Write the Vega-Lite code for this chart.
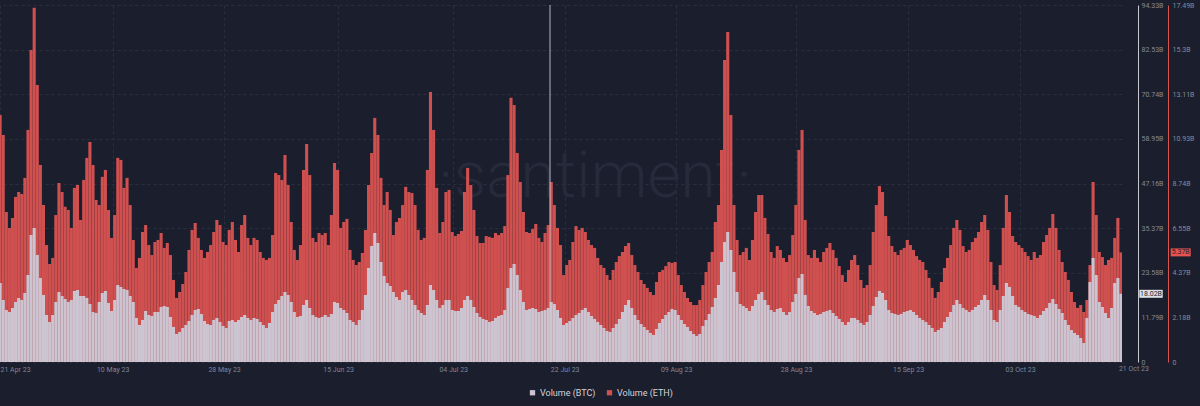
{
"$schema": "https://vega.github.io/schema/vega-lite/v6.json",
"width": 1122, "height": 357,
"autosize": "none",
"padding": {"left": 0, "top": 5, "right": 78, "bottom": 44},
"background": "#1b1e2d",
"config": {"view": {"stroke": null}, "font": "Roboto", "axis": {"labelFont": "Roboto"}, "legend": {"labelFont": "Roboto"}},
"data": {"format": {"parse": {"t": "utc:'%Y-%m-%d %H'"}}, "values": [
{"t":"2023-04-21 12","e":12.10,"b":20.87},{"t":"2023-04-22 00","e":11.12,"b":16.38},{"t":"2023-04-22 12","e":7.35,"b":13.74},{"t":"2023-04-23 00","e":6.57,"b":13.21},{"t":"2023-04-23 12","e":7.06,"b":14.27},{"t":"2023-04-24 00","e":8.09,"b":15.85},{"t":"2023-04-24 12","e":8.33,"b":16.91},{"t":"2023-04-25 00","e":8.23,"b":16.38},{"t":"2023-04-25 12","e":9.02,"b":18.23},{"t":"2023-04-26 00","e":11.37,"b":22.99},{"t":"2023-04-26 12","e":15.29,"b":33.55},{"t":"2023-04-27 00","e":17.35,"b":35.40},{"t":"2023-04-27 12","e":13.57,"b":28.27},{"t":"2023-04-28 00","e":9.65,"b":22.19},{"t":"2023-04-28 12","e":7.69,"b":17.70},{"t":"2023-04-29 00","e":5.73,"b":12.42},{"t":"2023-04-29 12","e":4.80,"b":10.57},{"t":"2023-04-30 00","e":5.10,"b":12.42},{"t":"2023-04-30 12","e":7.20,"b":15.85},
{"t":"2023-05-01 00","e":8.77,"b":18.49},{"t":"2023-05-01 12","e":8.33,"b":17.44},{"t":"2023-05-02 00","e":7.60,"b":16.64},{"t":"2023-05-02 12","e":7.45,"b":15.85},{"t":"2023-05-03 00","e":6.57,"b":16.38},{"t":"2023-05-03 12","e":8.53,"b":18.76},{"t":"2023-05-04 00","e":8.67,"b":19.02},{"t":"2023-05-04 12","e":6.96,"b":17.44},{"t":"2023-05-05 00","e":8.92,"b":17.44},{"t":"2023-05-05 12","e":10.00,"b":16.91},{"t":"2023-05-06 00","e":10.78,"b":15.32},{"t":"2023-05-06 12","e":9.65,"b":13.21},{"t":"2023-05-07 00","e":7.94,"b":12.95},{"t":"2023-05-07 12","e":7.69,"b":15.85},{"t":"2023-05-08 00","e":9.07,"b":18.23},{"t":"2023-05-08 12","e":9.41,"b":18.76},{"t":"2023-05-09 00","e":7.45,"b":15.59},{"t":"2023-05-09 12","e":6.08,"b":13.47},{"t":"2023-05-10 00","e":7.20,"b":16.38},{"t":"2023-05-10 12","e":10.00,"b":20.34},{"t":"2023-05-11 00","e":9.90,"b":19.82},{"t":"2023-05-11 12","e":8.53,"b":19.29},{"t":"2023-05-12 00","e":9.02,"b":19.02},{"t":"2023-05-12 12","e":7.69,"b":17.44},{"t":"2023-05-13 00","e":5.98,"b":15.85},{"t":"2023-05-13 12","e":4.61,"b":11.62},{"t":"2023-05-14 00","e":5.10,"b":9.78},{"t":"2023-05-14 12","e":6.37,"b":11.10},{"t":"2023-05-15 00","e":6.71,"b":13.47},{"t":"2023-05-15 12","e":5.73,"b":12.42},{"t":"2023-05-16 00","e":5.24,"b":12.15},{"t":"2023-05-16 12","e":5.88,"b":13.21},{"t":"2023-05-17 00","e":5.98,"b":13.21},{"t":"2023-05-17 12","e":6.32,"b":14.53},{"t":"2023-05-18 00","e":5.59,"b":14.80},{"t":"2023-05-18 12","e":5.83,"b":14.53},{"t":"2023-05-19 00","e":5.24,"b":11.89},{"t":"2023-05-19 12","e":4.02,"b":9.25},{"t":"2023-05-20 00","e":3.14,"b":7.40},{"t":"2023-05-20 12","e":3.43,"b":7.93},{"t":"2023-05-21 00","e":3.82,"b":8.98},{"t":"2023-05-21 12","e":4.41,"b":9.78},{"t":"2023-05-22 00","e":5.49,"b":10.83},{"t":"2023-05-22 12","e":6.47,"b":12.42},{"t":"2023-05-23 00","e":6.81,"b":13.74},{"t":"2023-05-23 12","e":6.08,"b":14.00},{"t":"2023-05-24 00","e":5.49,"b":12.68},{"t":"2023-05-24 12","e":5.10,"b":10.83},{"t":"2023-05-25 00","e":5.39,"b":10.04},{"t":"2023-05-25 12","e":5.73,"b":9.78},{"t":"2023-05-26 00","e":6.37,"b":11.10},{"t":"2023-05-26 12","e":6.96,"b":11.62},{"t":"2023-05-27 00","e":6.71,"b":10.57},{"t":"2023-05-27 12","e":5.88,"b":9.51},{"t":"2023-05-28 00","e":5.73,"b":8.98},{"t":"2023-05-28 12","e":6.47,"b":10.83},{"t":"2023-05-29 00","e":6.86,"b":11.10},{"t":"2023-05-29 12","e":5.98,"b":10.57},{"t":"2023-05-30 00","e":5.39,"b":11.10},{"t":"2023-05-30 12","e":6.71,"b":11.89},{"t":"2023-05-31 00","e":7.20,"b":12.42},{"t":"2023-05-31 12","e":6.08,"b":11.62},
{"t":"2023-06-01 00","e":5.73,"b":11.10},{"t":"2023-06-01 12","e":6.08,"b":11.62},{"t":"2023-06-02 00","e":5.98,"b":11.36},{"t":"2023-06-02 12","e":5.39,"b":10.57},{"t":"2023-06-03 00","e":5.10,"b":9.78},{"t":"2023-06-03 12","e":5.00,"b":8.98},{"t":"2023-06-04 00","e":5.10,"b":10.30},{"t":"2023-06-04 12","e":6.22,"b":13.21},{"t":"2023-06-05 00","e":9.26,"b":15.32},{"t":"2023-06-05 12","e":9.16,"b":16.38},{"t":"2023-06-06 00","e":8.92,"b":17.44},{"t":"2023-06-06 12","e":10.14,"b":18.49},{"t":"2023-06-07 00","e":8.67,"b":17.70},{"t":"2023-06-07 12","e":6.86,"b":15.85},{"t":"2023-06-08 00","e":5.49,"b":13.21},{"t":"2023-06-08 12","e":5.00,"b":11.89},{"t":"2023-06-09 00","e":5.73,"b":12.15},{"t":"2023-06-09 12","e":9.41,"b":15.06},{"t":"2023-06-10 00","e":10.68,"b":16.38},{"t":"2023-06-10 12","e":9.16,"b":14.27},{"t":"2023-06-11 00","e":6.08,"b":12.42},{"t":"2023-06-11 12","e":5.88,"b":11.89},{"t":"2023-06-12 00","e":6.32,"b":11.62},{"t":"2023-06-12 12","e":6.22,"b":11.89},{"t":"2023-06-13 00","e":6.32,"b":12.42},{"t":"2023-06-13 12","e":5.73,"b":11.89},{"t":"2023-06-14 00","e":7.20,"b":12.68},{"t":"2023-06-14 12","e":9.75,"b":15.85},{"t":"2023-06-15 00","e":9.41,"b":15.59},{"t":"2023-06-15 12","e":6.57,"b":14.27},{"t":"2023-06-16 00","e":6.86,"b":13.74},{"t":"2023-06-16 12","e":7.01,"b":12.95},{"t":"2023-06-17 00","e":5.49,"b":11.10},{"t":"2023-06-17 12","e":5.00,"b":10.57},{"t":"2023-06-18 00","e":4.75,"b":9.78},{"t":"2023-06-18 12","e":4.90,"b":11.10},{"t":"2023-06-19 00","e":5.34,"b":13.74},{"t":"2023-06-19 12","e":6.47,"b":17.70},{"t":"2023-06-20 00","e":8.67,"b":24.83},{"t":"2023-06-20 12","e":10.24,"b":30.65},{"t":"2023-06-21 00","e":11.96,"b":34.08},{"t":"2023-06-21 12","e":11.12,"b":31.44},{"t":"2023-06-22 00","e":9.02,"b":26.42},{"t":"2023-06-22 12","e":7.69,"b":22.72},{"t":"2023-06-23 00","e":8.33,"b":20.87},{"t":"2023-06-23 12","e":7.45,"b":20.08},{"t":"2023-06-24 00","e":6.22,"b":18.49},{"t":"2023-06-24 12","e":6.86,"b":17.17},{"t":"2023-06-25 00","e":7.06,"b":16.38},{"t":"2023-06-25 12","e":7.69,"b":18.49},{"t":"2023-06-26 00","e":8.58,"b":19.02},{"t":"2023-06-26 12","e":8.33,"b":17.70},{"t":"2023-06-27 00","e":8.28,"b":16.38},{"t":"2023-06-27 12","e":7.69,"b":15.06},{"t":"2023-06-28 00","e":6.47,"b":13.74},{"t":"2023-06-28 12","e":5.98,"b":12.95},{"t":"2023-06-29 00","e":6.08,"b":12.42},{"t":"2023-06-29 12","e":9.41,"b":15.06},{"t":"2023-06-30 00","e":13.23,"b":20.34},{"t":"2023-06-30 12","e":11.37,"b":19.02},
{"t":"2023-07-01 00","e":8.53,"b":16.38},{"t":"2023-07-01 12","e":6.32,"b":14.27},{"t":"2023-07-02 00","e":6.86,"b":15.06},{"t":"2023-07-02 12","e":8.33,"b":16.38},{"t":"2023-07-03 00","e":8.43,"b":16.38},{"t":"2023-07-03 12","e":6.37,"b":13.74},{"t":"2023-07-04 00","e":6.17,"b":13.47},{"t":"2023-07-04 12","e":6.27,"b":13.47},{"t":"2023-07-05 00","e":6.42,"b":14.27},{"t":"2023-07-05 12","e":8.33,"b":16.38},{"t":"2023-07-06 00","e":9.51,"b":17.44},{"t":"2023-07-06 12","e":8.67,"b":16.38},{"t":"2023-07-07 00","e":7.45,"b":14.53},{"t":"2023-07-07 12","e":6.17,"b":12.95},{"t":"2023-07-08 00","e":5.83,"b":11.89},{"t":"2023-07-08 12","e":5.83,"b":11.36},{"t":"2023-07-09 00","e":6.17,"b":11.10},{"t":"2023-07-09 12","e":6.13,"b":10.57},{"t":"2023-07-10 00","e":6.08,"b":10.83},{"t":"2023-07-10 12","e":6.32,"b":11.62},{"t":"2023-07-11 00","e":6.22,"b":12.15},{"t":"2023-07-11 12","e":6.32,"b":12.42},{"t":"2023-07-12 00","e":6.66,"b":13.74},{"t":"2023-07-12 12","e":9.16,"b":19.55},{"t":"2023-07-13 00","e":12.94,"b":24.83},{"t":"2023-07-13 12","e":12.59,"b":25.89},{"t":"2023-07-14 00","e":10.24,"b":22.99},{"t":"2023-07-14 12","e":8.82,"b":19.02},{"t":"2023-07-15 00","e":7.35,"b":15.85},{"t":"2023-07-15 12","e":6.37,"b":13.74},{"t":"2023-07-16 00","e":6.32,"b":14.00},{"t":"2023-07-16 12","e":6.52,"b":14.27},{"t":"2023-07-17 00","e":6.76,"b":14.00},{"t":"2023-07-17 12","e":6.08,"b":13.21},{"t":"2023-07-18 00","e":5.88,"b":13.47},{"t":"2023-07-18 12","e":6.32,"b":13.74},{"t":"2023-07-19 00","e":6.71,"b":14.27},{"t":"2023-07-19 12","e":8.82,"b":15.85},{"t":"2023-07-20 00","e":7.69,"b":15.32},{"t":"2023-07-20 12","e":6.57,"b":13.74},{"t":"2023-07-21 00","e":5.73,"b":11.62},{"t":"2023-07-21 12","e":4.26,"b":9.78},{"t":"2023-07-22 00","e":4.75,"b":10.30},{"t":"2023-07-22 12","e":5.00,"b":10.83},{"t":"2023-07-23 00","e":5.88,"b":11.62},{"t":"2023-07-23 12","e":6.66,"b":12.42},{"t":"2023-07-24 00","e":6.47,"b":12.95},{"t":"2023-07-24 12","e":6.57,"b":13.74},{"t":"2023-07-25 00","e":6.37,"b":14.27},{"t":"2023-07-25 12","e":5.98,"b":13.21},{"t":"2023-07-26 00","e":5.73,"b":12.15},{"t":"2023-07-26 12","e":5.59,"b":11.36},{"t":"2023-07-27 00","e":5.10,"b":10.57},{"t":"2023-07-27 12","e":4.75,"b":9.78},{"t":"2023-07-28 00","e":4.61,"b":8.98},{"t":"2023-07-28 12","e":4.26,"b":8.19},{"t":"2023-07-29 00","e":4.02,"b":7.93},{"t":"2023-07-29 12","e":4.51,"b":8.98},{"t":"2023-07-30 00","e":4.90,"b":10.04},{"t":"2023-07-30 12","e":5.19,"b":11.36},{"t":"2023-07-31 00","e":5.39,"b":13.21},{"t":"2023-07-31 12","e":5.68,"b":15.06},
{"t":"2023-08-01 00","e":5.83,"b":16.38},{"t":"2023-08-01 12","e":5.24,"b":14.27},{"t":"2023-08-02 00","e":4.75,"b":12.42},{"t":"2023-08-02 12","e":4.41,"b":11.10},{"t":"2023-08-03 00","e":4.02,"b":10.04},{"t":"2023-08-03 12","e":3.82,"b":9.25},{"t":"2023-08-04 00","e":3.63,"b":8.45},{"t":"2023-08-04 12","e":3.43,"b":7.66},{"t":"2023-08-05 00","e":3.28,"b":7.13},{"t":"2023-08-05 12","e":3.92,"b":8.72},{"t":"2023-08-06 00","e":4.41,"b":10.30},{"t":"2023-08-06 12","e":4.51,"b":11.36},{"t":"2023-08-07 00","e":4.70,"b":12.42},{"t":"2023-08-07 12","e":4.90,"b":13.21},{"t":"2023-08-08 00","e":4.85,"b":14.00},{"t":"2023-08-08 12","e":4.90,"b":13.74},{"t":"2023-08-09 00","e":4.26,"b":12.42},{"t":"2023-08-09 12","e":3.77,"b":11.10},{"t":"2023-08-10 00","e":3.43,"b":10.04},{"t":"2023-08-10 12","e":3.14,"b":9.25},{"t":"2023-08-11 00","e":2.94,"b":8.19},{"t":"2023-08-11 12","e":2.79,"b":7.40},{"t":"2023-08-12 00","e":2.79,"b":6.87},{"t":"2023-08-12 12","e":3.04,"b":7.40},{"t":"2023-08-13 00","e":3.77,"b":9.51},{"t":"2023-08-13 12","e":4.41,"b":11.10},{"t":"2023-08-14 00","e":4.90,"b":12.68},{"t":"2023-08-14 12","e":5.39,"b":14.53},{"t":"2023-08-15 00","e":6.86,"b":16.91},{"t":"2023-08-15 12","e":7.69,"b":20.34},{"t":"2023-08-16 00","e":10.39,"b":26.42},{"t":"2023-08-16 12","e":14.80,"b":31.70},{"t":"2023-08-17 00","e":16.17,"b":34.35},{"t":"2023-08-17 12","e":12.10,"b":29.59},{"t":"2023-08-18 00","e":7.69,"b":23.78},{"t":"2023-08-18 12","e":5.98,"b":18.49},{"t":"2023-08-19 00","e":5.24,"b":15.32},{"t":"2023-08-19 12","e":5.39,"b":14.80},{"t":"2023-08-20 00","e":5.59,"b":14.27},{"t":"2023-08-20 12","e":5.00,"b":13.47},{"t":"2023-08-21 00","e":5.98,"b":14.80},{"t":"2023-08-21 12","e":7.35,"b":16.38},{"t":"2023-08-22 00","e":8.18,"b":17.97},{"t":"2023-08-22 12","e":8.18,"b":18.49},{"t":"2023-08-23 00","e":7.06,"b":16.38},{"t":"2023-08-23 12","e":6.27,"b":15.06},{"t":"2023-08-24 00","e":5.39,"b":13.74},{"t":"2023-08-24 12","e":5.10,"b":13.21},{"t":"2023-08-25 00","e":5.68,"b":14.00},{"t":"2023-08-25 12","e":5.49,"b":14.27},{"t":"2023-08-26 00","e":5.10,"b":13.21},{"t":"2023-08-26 12","e":4.90,"b":12.42},{"t":"2023-08-27 00","e":5.24,"b":13.21},{"t":"2023-08-27 12","e":6.22,"b":15.85},{"t":"2023-08-28 00","e":7.69,"b":17.97},{"t":"2023-08-28 12","e":10.39,"b":22.19},{"t":"2023-08-29 00","e":11.37,"b":23.25},{"t":"2023-08-29 12","e":6.96,"b":17.70},{"t":"2023-08-30 00","e":5.24,"b":14.80},{"t":"2023-08-30 12","e":5.10,"b":13.47},{"t":"2023-08-31 00","e":5.49,"b":12.95},{"t":"2023-08-31 12","e":5.10,"b":12.42},
{"t":"2023-09-01 00","e":4.90,"b":12.68},{"t":"2023-09-01 12","e":5.39,"b":13.21},{"t":"2023-09-02 00","e":5.59,"b":13.47},{"t":"2023-09-02 12","e":5.83,"b":13.74},{"t":"2023-09-03 00","e":5.49,"b":12.95},{"t":"2023-09-03 12","e":5.10,"b":12.15},{"t":"2023-09-04 00","e":4.70,"b":11.36},{"t":"2023-09-04 12","e":4.26,"b":10.57},{"t":"2023-09-05 00","e":3.92,"b":9.78},{"t":"2023-09-05 12","e":4.51,"b":10.57},{"t":"2023-09-06 00","e":5.00,"b":11.62},{"t":"2023-09-06 12","e":5.24,"b":11.62},{"t":"2023-09-07 00","e":4.75,"b":11.10},{"t":"2023-09-07 12","e":4.02,"b":10.30},{"t":"2023-09-08 00","e":3.63,"b":9.78},{"t":"2023-09-08 12","e":3.77,"b":10.57},{"t":"2023-09-09 00","e":4.75,"b":12.42},{"t":"2023-09-09 12","e":6.37,"b":14.80},{"t":"2023-09-10 00","e":7.69,"b":17.17},{"t":"2023-09-10 12","e":8.62,"b":18.76},{"t":"2023-09-11 00","e":8.33,"b":18.23},{"t":"2023-09-11 12","e":7.15,"b":16.38},{"t":"2023-09-12 00","e":6.17,"b":13.74},{"t":"2023-09-12 12","e":5.68,"b":12.95},{"t":"2023-09-13 00","e":5.39,"b":12.68},{"t":"2023-09-13 12","e":5.24,"b":12.42},{"t":"2023-09-14 00","e":5.49,"b":12.68},{"t":"2023-09-14 12","e":5.59,"b":13.21},{"t":"2023-09-15 00","e":5.98,"b":13.47},{"t":"2023-09-15 12","e":5.73,"b":13.74},{"t":"2023-09-16 00","e":5.49,"b":13.21},{"t":"2023-09-16 12","e":5.19,"b":12.42},{"t":"2023-09-17 00","e":5.00,"b":11.62},{"t":"2023-09-17 12","e":4.90,"b":11.10},{"t":"2023-09-18 00","e":4.51,"b":10.57},{"t":"2023-09-18 12","e":4.12,"b":9.78},{"t":"2023-09-19 00","e":3.63,"b":8.98},{"t":"2023-09-19 12","e":3.14,"b":7.93},{"t":"2023-09-20 00","e":3.43,"b":8.45},{"t":"2023-09-20 12","e":3.92,"b":8.98},{"t":"2023-09-21 00","e":4.61,"b":10.57},{"t":"2023-09-21 12","e":5.10,"b":11.89},{"t":"2023-09-22 00","e":5.73,"b":13.21},{"t":"2023-09-22 12","e":6.57,"b":15.06},{"t":"2023-09-23 00","e":6.96,"b":16.38},{"t":"2023-09-23 12","e":6.47,"b":15.32},{"t":"2023-09-24 00","e":5.68,"b":14.27},{"t":"2023-09-24 12","e":5.39,"b":13.74},{"t":"2023-09-25 00","e":5.49,"b":13.21},{"t":"2023-09-25 12","e":5.88,"b":13.74},{"t":"2023-09-26 00","e":6.08,"b":14.53},{"t":"2023-09-26 12","e":6.37,"b":15.06},{"t":"2023-09-27 00","e":6.86,"b":16.38},{"t":"2023-09-27 12","e":7.20,"b":17.70},{"t":"2023-09-28 00","e":6.47,"b":16.38},{"t":"2023-09-28 12","e":4.90,"b":13.74},{"t":"2023-09-29 00","e":3.77,"b":11.10},{"t":"2023-09-29 12","e":3.53,"b":10.57},{"t":"2023-09-30 00","e":4.75,"b":13.74},{"t":"2023-09-30 12","e":6.57,"b":17.44},
{"t":"2023-10-01 00","e":8.18,"b":20.87},{"t":"2023-10-01 12","e":7.35,"b":19.82},{"t":"2023-10-02 00","e":6.17,"b":17.44},{"t":"2023-10-02 12","e":5.88,"b":15.06},{"t":"2023-10-03 00","e":5.73,"b":14.53},{"t":"2023-10-03 12","e":5.59,"b":13.74},{"t":"2023-10-04 00","e":5.39,"b":13.21},{"t":"2023-10-04 12","e":5.19,"b":12.68},{"t":"2023-10-05 00","e":5.00,"b":12.42},{"t":"2023-10-05 12","e":5.39,"b":12.15},{"t":"2023-10-06 00","e":5.10,"b":11.62},{"t":"2023-10-06 12","e":5.24,"b":12.42},{"t":"2023-10-07 00","e":5.88,"b":13.47},{"t":"2023-10-07 12","e":6.22,"b":14.27},{"t":"2023-10-08 00","e":6.57,"b":15.59},{"t":"2023-10-08 12","e":7.25,"b":16.64},{"t":"2023-10-09 00","e":6.57,"b":15.32},{"t":"2023-10-09 12","e":5.49,"b":14.00},{"t":"2023-10-10 00","e":4.90,"b":12.95},{"t":"2023-10-10 12","e":4.41,"b":11.10},{"t":"2023-10-11 00","e":4.02,"b":9.78},{"t":"2023-10-11 12","e":3.43,"b":8.45},{"t":"2023-10-12 00","e":2.94,"b":7.66},{"t":"2023-10-12 12","e":2.65,"b":7.13},{"t":"2023-10-13 00","e":2.79,"b":6.34},{"t":"2023-10-13 12","e":2.45,"b":5.02},{"t":"2023-10-14 00","e":3.04,"b":11.62},{"t":"2023-10-14 12","e":4.75,"b":21.14},{"t":"2023-10-15 00","e":8.82,"b":27.48},{"t":"2023-10-15 12","e":7.20,"b":22.99},{"t":"2023-10-16 00","e":5.39,"b":15.85},{"t":"2023-10-16 12","e":5.14,"b":14.53},{"t":"2023-10-17 00","e":4.75,"b":12.95},{"t":"2023-10-17 12","e":5.00,"b":11.62},{"t":"2023-10-18 00","e":5.10,"b":14.27},{"t":"2023-10-18 12","e":6.08,"b":20.87},{"t":"2023-10-19 00","e":7.06,"b":22.19},{"t":"2023-10-19 12","e":5.37,"b":18.02}
]},
"resolve": {"scale": {"y": "independent"}},
"layer": [
{
"data": {"values": [{"w": "·santiment·"}]},
"mark": {"type": "text", "font": "Roboto", "fontSize": 64, "fontWeight": 300, "color": "#262a3a", "align": "center", "baseline": "alphabetic"},
"encoding": {
"x": {"datum": {"year": 2023, "month": 7, "date": 26, "hours": 21, "minutes": 40, "utc": true}, "type": "temporal"},
"y": {"datum": 8.08, "type": "quantitative", "scale": {"domain": [0, 17.49], "nice": false}, "axis": null},
"text": {"field": "w"}
}
},
{
"mark": {"type": "bar", "clip": true, "color": "#d05050", "binSpacing": 0},
"encoding": {
"x": {"field": "t", "timeUnit": {"unit": "yearmonthdatehours", "step": 12, "utc": true}, "type": "temporal",
"scale": {"type": "utc", "domain": [{"year": 2023, "month": 4, "date": 21, "hours": 19, "minutes": 30, "utc": true}, {"year": 2023, "month": 10, "date": 20, "utc": true}]},
"axis": {
"title": null, "domain": false, "ticks": false, "labelPadding": 3, "labelFontSize": 7, "labelColor": "#80859a", "labelOverlap": false,
"grid": true, "gridDash": [3, 3], "gridWidth": 1, "gridColor": "#2a2e3f", "labelFlush": 5,
"labelExpr": "utcFormat(datum.value, '%d %b %y')",
"values": [
{"year": 2023, "month": 4, "date": 21, "hours": 19, "minutes": 30, "utc": true},
{"year": 2023, "month": 5, "date": 10, "utc": true},
{"year": 2023, "month": 5, "date": 28, "utc": true},
{"year": 2023, "month": 6, "date": 15, "hours": 10, "utc": true},
{"year": 2023, "month": 7, "date": 4, "utc": true},
{"year": 2023, "month": 7, "date": 22, "utc": true},
{"year": 2023, "month": 8, "date": 9, "utc": true},
{"year": 2023, "month": 8, "date": 28, "hours": 9, "utc": true},
{"year": 2023, "month": 9, "date": 15, "hours": 11, "utc": true},
{"year": 2023, "month": 10, "date": 3, "hours": 13, "utc": true}
]
}
},
"y": {"field": "e", "type": "quantitative", "scale": {"domain": [0, 17.49], "nice": false},
"axis": {"orient": "right", "offset": 46, "title": null, "grid": false, "ticks": false, "domainColor": "#d9534f", "domainWidth": 1,
"values": [0, 2.18, 4.37, 6.55, 8.74, 10.93, 13.11, 15.3, 17.49],
"labelExpr": "datum.value == 0 ? '0' : datum.value + 'B'", "labelPadding": 4, "labelFontSize": 7, "labelColor": "#858a99"}},
"color": {"datum": "Volume (ETH)", "type": "nominal",
"scale": {"domain": ["Volume (BTC)", "Volume (ETH)"], "range": ["#ccc4d0", "#d05050"]},
"legend": {"orient": "none", "legendX": 528, "legendY": 383, "direction": "horizontal", "title": null, "symbolType": "square", "symbolSize": 28, "symbolStrokeWidth": 0, "symbolOpacity": 1, "labelColor": "#d3d5dc", "labelFontSize": 9, "columnPadding": 9, "labelOffset": 3, "padding": 0}}
}
},
{
"mark": {"type": "bar", "clip": true, "color": "#ccc4d0", "binSpacing": 0},
"encoding": {
"x": {"field": "t", "timeUnit": {"unit": "yearmonthdatehours", "step": 12, "utc": true}, "type": "temporal"},
"y": {"field": "b", "type": "quantitative", "scale": {"domain": [0, 94.33], "nice": false},
"axis": {"orient": "right", "offset": 16, "title": null, "grid": true, "gridColor": "#2a2e3f", "gridDash": [3, 3], "ticks": false, "domainColor": "#c8c8d0", "domainWidth": 1,
"values": [0, 11.79, 23.58, 35.37, 47.16, 58.95, 70.74, 82.53, 94.33],
"labelExpr": "datum.value == 0 ? '0' : datum.value + 'B'", "labelPadding": 3, "labelFontSize": 7, "labelColor": "#858a99"}},
"color": {"datum": "Volume (BTC)", "type": "nominal"}
}
},
{
"data": {"values": [{"c": 1}]},
"mark": {"type": "rule", "color": "#cfd0d8", "strokeWidth": 1, "opacity": 0.85},
"encoding": {
"x": {"datum": {"year": 2023, "month": 7, "date": 19, "hours": 15, "minutes": 10, "utc": true}, "type": "temporal"}
}
},
{
"data": {"values": [{"lbl": "21 Oct 23"}]},
"mark": {"type": "text", "font": "Roboto", "fontSize": 7, "color": "#80859a", "align": "center", "baseline": "top", "dy": 3},
"encoding": {
"x": {"datum": {"year": 2023, "month": 10, "date": 21, "hours": 22, "utc": true}, "type": "temporal"},
"y": {"datum": 0, "type": "quantitative", "scale": {"domain": [0, 94.33], "nice": false}, "axis": null},
"text": {"field": "lbl"}
}
},
{
"transform": [{"filter": "time(datum.t) == utc(2023, 9, 19, 12)"}],
"mark": {"type": "point", "shape": "M12.18,-1H17.18V1H12.18Z", "size": 64, "filled": true, "opacity": 1, "color": "#e4534f", "strokeWidth": 0},
"encoding": {
"x": {"datum": {"year": 2023, "month": 10, "date": 20, "utc": true}, "type": "temporal"},
"y": {"field": "e", "type": "quantitative", "scale": {"domain": [0, 17.49], "nice": false}, "axis": null}
}
},
{
"transform": [{"filter": "time(datum.t) == utc(2023, 9, 19, 12)"}, {"calculate": "format(datum.e, '.2f') + 'B'", "as": "lbl"}],
"mark": {"type": "text", "font": "Roboto", "fontSize": 7, "color": "#2b1f2a", "align": "center", "baseline": "middle", "dx": 58.7},
"encoding": {
"x": {"datum": {"year": 2023, "month": 10, "date": 20, "utc": true}, "type": "temporal"},
"y": {"field": "e", "type": "quantitative", "scale": {"domain": [0, 17.49], "nice": false}, "axis": null},
"text": {"field": "lbl"}
}
},
{
"transform": [{"filter": "time(datum.t) == utc(2023, 9, 19, 12)"}],
"mark": {"type": "point", "shape": "M4.33,-1H10.18V1H4.33Z", "size": 64, "filled": true, "opacity": 1, "color": "#dfe0e6", "strokeWidth": 0},
"encoding": {
"x": {"datum": {"year": 2023, "month": 10, "date": 20, "utc": true}, "type": "temporal"},
"y": {"field": "b", "type": "quantitative", "scale": {"domain": [0, 94.33], "nice": false}, "axis": null}
}
},
{
"transform": [{"filter": "time(datum.t) == utc(2023, 9, 19, 12)"}, {"calculate": "format(datum.b, '.2f') + 'B'", "as": "lbl"}],
"mark": {"type": "text", "font": "Roboto", "fontSize": 7, "color": "#1b1e2d", "align": "center", "baseline": "middle", "dx": 29},
"encoding": {
"x": {"datum": {"year": 2023, "month": 10, "date": 20, "utc": true}, "type": "temporal"},
"y": {"field": "b", "type": "quantitative", "scale": {"domain": [0, 94.33], "nice": false}, "axis": null},
"text": {"field": "lbl"}
}
}
]
}
